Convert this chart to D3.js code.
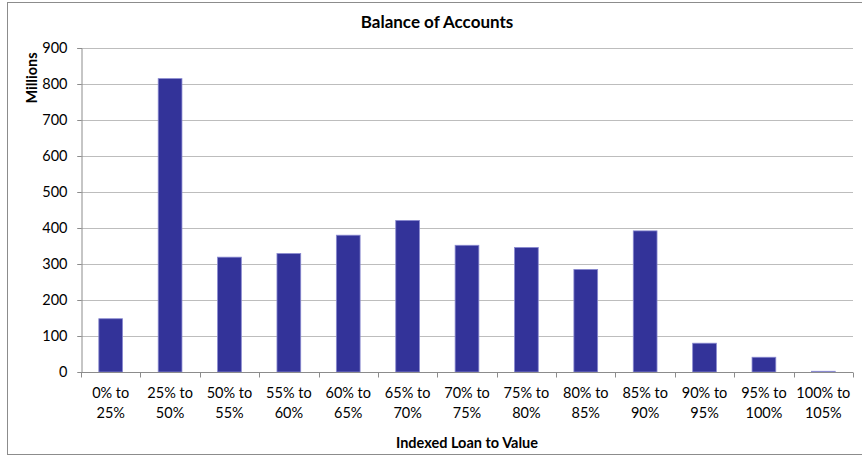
<!DOCTYPE html>
<html>
<head>
<meta charset="utf-8">
<script src="https://cdn.jsdelivr.net/npm/d3@7"></script>
<style>
  body { margin: 0; background: #fff; }
  text { font-family: Lato, "Open Sans", sans-serif; fill: #000; }
</style>
</head>
<body>
<svg id="chart"></svg>
<script>
// data
const categories = ['0% to|25%', '25% to|50%', '50% to|55%', '55% to|60%', '60% to|65%',
    '65% to|70%', '70% to|75%', '75% to|80%', '80% to|85%', '85% to|90%',
    '90% to|95%', '95% to|100%', '100% to|105%'];
const balances = [148, 815, 319, 329, 380, 421, 352, 346, 285, 392, 80, 41, 2];
const yTicks = [0, 100, 200, 300, 400, 500, 600, 700, 800, 900];

const width = 862, height = 457;
const margin = {top: 48, right: 9, bottom: 85, left: 81};

const svg = d3.select('#chart')
    .attr('width', width)
    .attr('height', height);

// outer frame
svg.append('rect')
    .attr('x', 7.5).attr('y', 2.5)
    .attr('width', 860).attr('height', 452)
    .attr('fill', 'none')
    .attr('stroke', '#8c8c8c')
    .attr('stroke-width', 1);

const x = d3.scaleBand()
    .domain(categories)
    .range([margin.left, width - margin.right])
    .paddingInner(0.6)
    .paddingOuter(0.3);

const y = d3.scaleLinear()
    .domain([0, 900])
    .range([height - margin.bottom, margin.top]);

// gridlines
svg.append('g')
    .selectAll('line')
    .data(yTicks.slice(1))
    .enter()
    .append('line')
    .attr('x1', margin.left - 4)
    .attr('x2', width - margin.right)
    .attr('y1', d => Math.round(y(d)) + 0.5)
    .attr('y2', d => Math.round(y(d)) + 0.5)
    .attr('stroke', '#bdbdbd')
    .attr('stroke-width', 1);

// bars
svg.append('g')
    .selectAll('rect')
    .data(balances)
    .enter()
    .append('rect')
    .attr('x', (d, i) => x(categories[i]))
    .attr('y', d => y(d))
    .attr('width', x.bandwidth())
    .attr('height', d => y(0) - y(d))
    .attr('fill', '#333399')
    .attr('stroke', '#8a8ad0')
    .attr('stroke-width', 0.8);

// y axis
const yAxis = svg.append('g')
    .attr('transform', `translate(${margin.left + 0.5},0)`)
    .call(d3.axisLeft(y).tickValues(yTicks).tickSize(4).tickPadding(10));
yAxis.selectAll('path, line').attr('stroke', '#8c8c8c');
yAxis.selectAll('text').style('font-size', '14.5px').attr('fill', '#000');

// x axis, ticks at band boundaries
const xAxis = svg.append('g')
    .attr('transform', `translate(0,${Math.round(y(0)) + 0.5})`);
xAxis.append('line')
    .attr('x1', margin.left)
    .attr('x2', width - margin.right)
    .attr('stroke', '#8c8c8c');
const step = x.step();
xAxis.selectAll('.tk')
    .data(d3.range(categories.length + 1))
    .enter()
    .append('line')
    .attr('x1', i => Math.round(margin.left + i * step) + 0.5)
    .attr('x2', i => Math.round(margin.left + i * step) + 0.5)
    .attr('y1', 0)
    .attr('y2', 5)
    .attr('stroke', '#8c8c8c');

const lbl = svg.append('g')
    .selectAll('text')
    .data(categories)
    .enter()
    .append('text')
    .attr('text-anchor', 'middle')
    .style('font-size', '14.5px')
    .attr('transform', d => `translate(${x(d) + x.bandwidth() / 2},0)`);
lbl.selectAll('tspan')
    .data(d => d.split('|'))
    .enter()
    .append('tspan')
    .attr('x', 0)
    .attr('y', (d, i) => 398 + i * 20)
    .text(d => d);

// titles
svg.append('text')
    .attr('x', 437).attr('y', 28)
    .attr('text-anchor', 'middle')
    .style('font-size', '17px')
    .style('font-weight', 'bold')
    .text('Balance of Accounts');

svg.append('text')
    .attr('x', (margin.left + width - margin.right) / 2)
    .attr('y', 448)
    .attr('text-anchor', 'middle')
    .style('font-size', '14.5px')
    .style('font-weight', 'bold')
    .text('Indexed Loan to Value');

svg.append('text')
    .attr('transform', 'translate(37,78) rotate(-90)')
    .attr('text-anchor', 'middle')
    .style('font-size', '14.5px')
    .style('font-weight', 'bold')
    .text('Millions');
</script>
</body>
</html>
